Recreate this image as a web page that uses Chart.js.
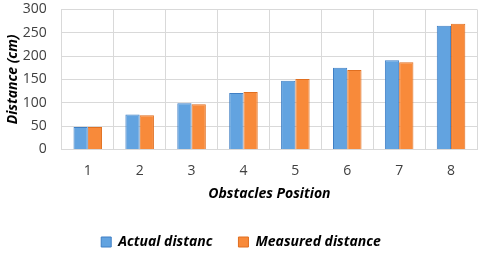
<!DOCTYPE html>
<html>
<head>
<meta charset="utf-8">
<script src="https://cdn.jsdelivr.net/npm/chart.js@4"></script>
<style>
  body { margin: 0; background: #fff; }
  #wrap { width: 480px; height: 255px; }
</style>
</head>
<body>
<div id="wrap"><canvas id="myChart"></canvas></div>
<script>
const positions = ["1", "2", "3", "4", "5", "6", "7", "8"];
const actualDistance = [48, 75, 99, 121, 147, 175, 191, 265];
const measuredDistance = [48, 73, 97, 123, 151, 170, 187, 269];

Chart.defaults.font.family = "'Open Sans', sans-serif";
Chart.defaults.color = "#404040";

const ctx = document.querySelector("#myChart");
const chart = new Chart(ctx, {
  type: "bar",
  data: {
    labels: positions,
    datasets: [
      {
        label: "Actual distanc",
        data: actualDistance,
        backgroundColor: "#62a3e0",
        borderColor: "#3f7fc4",
        borderWidth: 1,
      },
      {
        label: "Measured distance",
        data: measuredDistance,
        backgroundColor: "#f88a3a",
        borderColor: "#e06f20",
        borderWidth: 1,
      },
    ],
  },
  options: {
    responsive: true,
    maintainAspectRatio: false,
    animation: false,
    // negative bottom so the wide legend spacing doesn't push it up
    layout: { padding: { top: 3, right: 3, left: 5, bottom: -4 } },
    datasets: {
      bar: { categoryPercentage: 0.55, barPercentage: 1 },
    },
    plugins: {
      legend: {
        position: "bottom",
        labels: {
          boxWidth: 10,
          boxHeight: 10,
          padding: 26,
          color: "#000",
          font: { size: 14, weight: "bold", style: "italic" },
        },
      },
      tooltip: { enabled: false },
    },
    scales: {
      x: {
        grid: { color: "#d9d9d9", tickColor: "rgba(0,0,0,0)", tickLength: 13 },
        border: { color: "#d9d9d9" },
        ticks: { padding: 0, font: { size: 14 } },
        title: {
          display: true,
          text: "Obstacles Position",
          color: "#000",
          font: { size: 14, weight: "bold", style: "italic" },
          padding: { top: 6, bottom: 7 },
        },
      },
      y: {
        min: 0,
        max: 300,
        grid: { color: "#d9d9d9", tickColor: "rgba(0,0,0,0)", tickLength: 14 },
        border: { color: "#d9d9d9" },
        ticks: { stepSize: 50, padding: 1, autoSkip: false, font: { size: 14 } },
        title: {
          display: true,
          text: "Distance (cm)",
          color: "#000",
          font: { size: 14, weight: "bold", style: "italic" },
          padding: 0,
        },
      },
    },
  },
});
</script>
</body>
</html>
